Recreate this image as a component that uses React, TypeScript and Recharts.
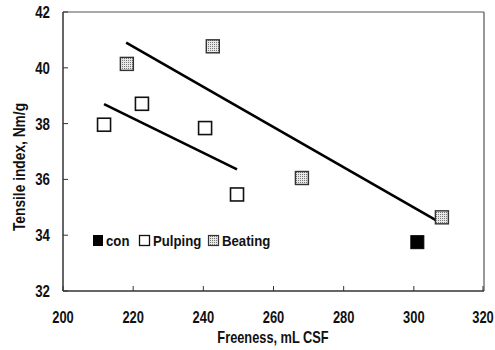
import React from "react";
import {
  ScatterChart,
  Scatter,
  XAxis,
  YAxis,
  ReferenceLine,
  Label,
} from "recharts";

const conData = [{ x: 301, y: 33.75 }];
const pulpingData = [
  { x: 211.7, y: 37.96 },
  { x: 222.5, y: 38.71 },
  { x: 240.5, y: 37.84 },
  { x: 249.6, y: 35.46 },
];
const beatingData = [
  { x: 218.2, y: 40.14 },
  { x: 242.7, y: 40.77 },
  { x: 268.1, y: 36.05 },
  { x: 308.0, y: 34.64 },
];
const pulpingTrend = [
  { x: 211.7, y: 38.7 },
  { x: 249.6, y: 36.36 },
];
const beatingTrend = [
  { x: 218.0, y: 40.9 },
  { x: 307.4, y: 34.46 },
];
const xTicks = [200, 220, 240, 260, 280, 300, 320];
const yTicks = [32, 34, 36, 38, 40, 42];
const seriesNames = ["con", "Pulping", "Beating"];

const FONT = "'Liberation Sans', Arial, sans-serif";

const XTick = (props: any) => {
  const { x, y, payload } = props;
  return (
    <g>
      <line x1={x} x2={x} y1={y} y2={y - 5} stroke="#333" strokeWidth={1} />
      <text
        transform={`translate(${x},${y + 32}) scale(0.76,1)`}
        textAnchor="middle"
        fontFamily={FONT}
        fontWeight="bold"
        fontSize={17}
        fill="#111"
      >
        {payload.value}
      </text>
    </g>
  );
};

const YTick = (props: any) => {
  const { x, y, payload } = props;
  return (
    <g>
      <line x1={x} x2={x + 5} y1={y} y2={y} stroke="#333" strokeWidth={1} />
      <text
        transform={`translate(${x - 13},${y + 6}) scale(0.78,1)`}
        textAnchor="end"
        fontFamily={FONT}
        fontWeight="bold"
        fontSize={17}
        fill="#111"
      >
        {payload.value}
      </text>
    </g>
  );
};

const SQ = 13;

const OpenSquare = (props: any) => {
  const { cx, cy } = props;
  return <rect x={cx - SQ / 2} y={cy - SQ / 2} width={SQ} height={SQ} fill="#fff" stroke="#111" strokeWidth={1.6} />;
};
const DotSquare = (props: any) => {
  const { cx, cy } = props;
  return <rect x={cx - SQ / 2} y={cy - SQ / 2} width={SQ} height={SQ} fill="url(#dots)" stroke="#333" strokeWidth={1.4} />;
};
const FilledSquare = (props: any) => {
  const { cx, cy } = props;
  return <rect x={cx - SQ / 2} y={cy - SQ / 2} width={SQ} height={SQ} fill="#000" stroke="#000" strokeWidth={1} />;
};

const XTitle = () => (
  <text
    transform="translate(273,343) scale(0.8,1)"
    textAnchor="middle"
    fontFamily={FONT}
    fontWeight="bold"
    fontSize={16}
    fill="#111"
  >
    Freeness, mL CSF
  </text>
);

const YTitle = () => (
  <text
    transform="translate(25,167) rotate(-90) scale(0.86,1)"
    textAnchor="middle"
    fontFamily={FONT}
    fontWeight="bold"
    fontSize={16}
    fill="#111"
  >
    Tensile index, Nm/g
  </text>
);

const LegendOverlay = () => {
  const items = [
    { name: seriesNames[0], sx: 93, tx: 106 },
    { name: seriesNames[1], sx: 139, tx: 153 },
    { name: seriesNames[2], sx: 208, tx: 222 },
  ];
  return (
    <svg width={495} height={350} style={{ position: "absolute", left: 0, top: 0, pointerEvents: "none" }}>
      <defs>
        <pattern id="dots2" width="2" height="2" patternUnits="userSpaceOnUse">
          <rect width="2" height="2" fill="#e8e8e8" />
          <rect width="1" height="1" fill="#777" />
        </pattern>
      </defs>
      {items.map((it, i) => (
        <g key={it.name}>
          {i === 0 && <rect x={it.sx} y={235} width={10} height={11} fill="#000" />}
          {i === 1 && <rect x={it.sx + 0.5} y={235.5} width={10} height={10} fill="#fff" stroke="#111" strokeWidth={1.3} />}
          {i === 2 && <rect x={it.sx + 0.5} y={235.5} width={10} height={10} fill="url(#dots2)" stroke="#333" strokeWidth={1.2} />}
          <text
            transform={`translate(${it.tx},246) scale(0.88,1)`}
            fontFamily={FONT}
            fontWeight="bold"
            fontSize={15}
            fill="#111"
          >
            {it.name}
          </text>
        </g>
      ))}
    </svg>
  );
};

export default function App() {
  return (
    <div style={{ position: "absolute", left: 0, top: 0, width: 495, height: 350, background: "#fff" }}>
      <ScatterChart width={495} height={350} margin={{ top: 12, right: 11, left: 13, bottom: 29 }}>
        <defs>
          <pattern id="dots" width="2" height="2" patternUnits="userSpaceOnUse">
            <rect width="2" height="2" fill="#e8e8e8" />
            <rect width="1" height="1" fill="#777" />
          </pattern>
        </defs>
        <XAxis
          type="number"
          dataKey="x"
          domain={[200, 320]}
          ticks={xTicks}
          tick={<XTick />}
          tickLine={false}
          tickSize={0}
          tickMargin={0}
          height={30}
          stroke="#333"
          strokeWidth={1.5}
          allowDataOverflow
        >
          <Label content={<XTitle />} />
        </XAxis>
        <YAxis
          type="number"
          dataKey="y"
          domain={[32, 42]}
          ticks={yTicks}
          tick={<YTick />}
          tickLine={false}
          tickSize={0}
          tickMargin={0}
          width={50}
          stroke="#333"
          strokeWidth={1.5}
          allowDataOverflow
        >
          <Label content={<YTitle />} />
        </YAxis>
        <ReferenceLine y={42} stroke="#555" strokeWidth={1.2} />
        <ReferenceLine x={320} stroke="#555" strokeWidth={1.2} />
        <ReferenceLine segment={pulpingTrend} stroke="#000" strokeWidth={2.6} ifOverflow="visible" />
        <ReferenceLine segment={beatingTrend} stroke="#000" strokeWidth={2.6} ifOverflow="visible" />
        <Scatter name={seriesNames[0]} data={conData} shape={<FilledSquare />} isAnimationActive={false} />
        <Scatter name={seriesNames[1]} data={pulpingData} shape={<OpenSquare />} isAnimationActive={false} />
        <Scatter name={seriesNames[2]} data={beatingData} shape={<DotSquare />} isAnimationActive={false} />
      </ScatterChart>
      <LegendOverlay />
    </div>
  );
}
